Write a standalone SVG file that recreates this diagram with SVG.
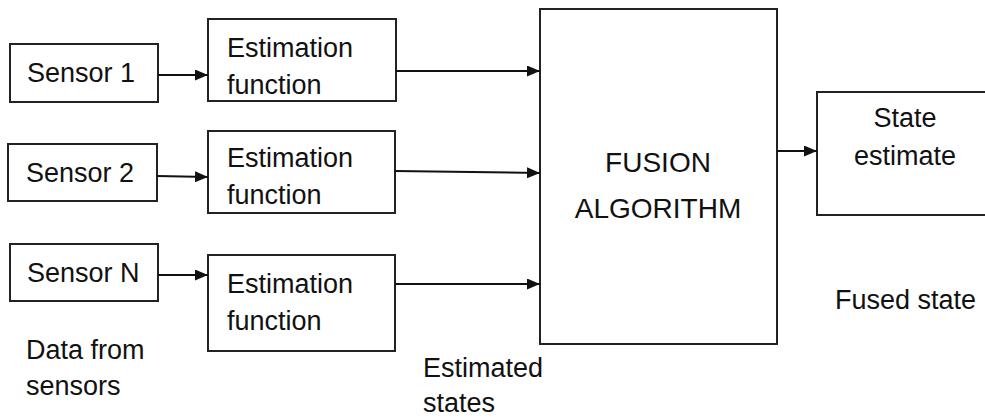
<svg xmlns="http://www.w3.org/2000/svg" width="985" height="419" viewBox="0 0 985 419">
  <defs>
    <marker id="arrow" markerWidth="13" markerHeight="11" refX="13" refY="5.5" orient="auto" markerUnits="userSpaceOnUse">
      <path d="M0,0 L13,5.5 L0,11 Z" fill="#111"/>
    </marker>
    <style>
      .box { fill: #fff; stroke: #222; stroke-width: 2; }
      .lbl { font-family: "Liberation Sans", Arial, sans-serif; font-size: 27px; fill: #111; }
      .big { font-family: "Liberation Sans", Arial, sans-serif; font-size: 28px; fill: #111; }
      .mid { text-anchor: middle; }
      .conn { stroke: #111; stroke-width: 2; fill: none; marker-end: url(#arrow); }
    </style>
  </defs>
  <rect width="985" height="419" fill="#fff"/>

  <!-- sensors -->
  <g id="sensor1">
    <rect class="box" x="10" y="44" width="148" height="58"/>
    <text class="lbl" x="27" y="82">Sensor 1</text>
  </g>
  <g id="sensor2">
    <rect class="box" x="8" y="144" width="149" height="57"/>
    <text class="lbl" x="26" y="182">Sensor 2</text>
  </g>
  <g id="sensorN">
    <rect class="box" x="10" y="244" width="148" height="57"/>
    <text class="lbl" x="27" y="282">Sensor N</text>
  </g>

  <!-- per-sensor estimators -->
  <g id="estimator1">
    <rect class="box" x="208" y="19" width="188" height="82"/>
    <text class="lbl" x="227" y="57">Estimation</text>
    <text class="lbl" x="227" y="94">function</text>
  </g>
  <g id="estimator2">
    <rect class="box" x="208" y="131" width="187" height="82"/>
    <text class="lbl" x="227" y="167">Estimation</text>
    <text class="lbl" x="227" y="204">function</text>
  </g>
  <g id="estimator3">
    <rect class="box" x="208" y="255" width="187" height="96"/>
    <text class="lbl" x="227" y="293">Estimation</text>
    <text class="lbl" x="227" y="330">function</text>
  </g>

  <!-- fusion stage -->
  <g id="fusion">
    <rect class="box" x="540" y="9" width="237" height="335"/>
    <text class="big mid" x="658" y="172">FUSION</text>
    <text class="big mid" x="658" y="218">ALGORITHM</text>
  </g>

  <!-- output -->
  <g id="state">
    <rect class="box" x="817" y="92" width="180" height="123"/>
    <text class="lbl mid" x="905" y="127">State</text>
    <text class="lbl mid" x="905" y="165">estimate</text>
  </g>

  <!-- stage captions -->
  <g id="caption-data">
    <text class="lbl" x="26" y="359">Data from</text>
    <text class="lbl" x="26" y="395">sensors</text>
  </g>
  <g id="caption-estimated">
    <text class="lbl" x="423" y="377">Estimated</text>
    <text class="lbl" x="423" y="412">states</text>
  </g>
  <g id="caption-fused">
    <text class="lbl" x="835" y="309">Fused state</text>
  </g>

  <!-- connectors -->
  <g id="connectors">
    <line class="conn" x1="158" y1="75" x2="208" y2="75"/>
    <line class="conn" x1="157" y1="176" x2="208" y2="177"/>
    <line class="conn" x1="158" y1="275" x2="208" y2="275"/>
    <line class="conn" x1="396" y1="71" x2="540" y2="71"/>
    <line class="conn" x1="395" y1="171" x2="540" y2="173"/>
    <line class="conn" x1="395" y1="284" x2="540" y2="284"/>
    <line class="conn" x1="777" y1="151" x2="817" y2="151"/>
  </g>
</svg>
